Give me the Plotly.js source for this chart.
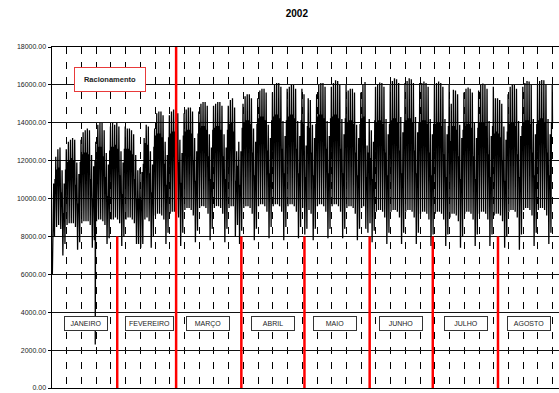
<!DOCTYPE html>
<html>
<head>
<meta charset="utf-8">
<script src="https://cdn.plot.ly/plotly-3.0.1.min.js"></script>
<style>html,body{margin:0;padding:0;background:#fff;}#chart{width:559px;height:393px;}</style>
</head>
<body>
<div id="chart"></div>
<script>
// Daily values, one row per week (Tue..Mon), starting 2002-01-01
const dailyPeak = [
[10800,12200,12600,12700,11500,10800,12600],
[13000,13100,13200,13100,11900,11300,13100],
[13500,13600,13700,13600,12300,11700,13000],
[13900,14000,14000,13600,12400,11800,13800],
[14000,13900,14000,13800,12500,11900,13800],
[13700,13700,13600,13400,12300,11500,11600],
[11400,13200,13900,13800,12500,11800,13700],
[14500,14600,14600,14400,13000,12300,14400],
[14600,14700,14700,14500,13100,12400,14500],
[14700,14800,14800,14600,13200,12500,14600],
[15000,15100,15100,14900,13400,12700,14900],
[15000,15100,15100,14900,13400,12700,14900],
[15200,15300,14800,12500,13000,12500,15000],
[15400,15500,15500,15300,13700,13000,15300],
[15700,15800,15800,15600,13900,13200,15600],
[16000,16100,16100,15900,14100,13300,15800],
[15900,16000,16000,15800,14100,13300,15800],
[15500,12800,15300,15200,13900,13200,15500],
[16000,16100,16100,15900,14100,13300,15900],
[16100,16250,16200,16000,14200,13400,16000],
[15700,15800,15800,15600,13900,13200,15600],
[16000,16150,12800,14200,13600,13000,15900],
[16000,16130,16100,15900,14200,13400,16000],
[16200,16350,16300,16100,14300,13500,16100],
[16200,16350,16300,16100,14300,13500,16100],
[16100,16180,16100,15900,14200,13400,16000],
[16100,16180,16100,15900,14200,13400,16000],
[15000,15740,15700,15500,13900,13200,15600],
[15800,15860,15800,15600,14000,13200,15700],
[16000,16070,16000,15800,14100,13300,15900],
[15300,15300,15200,15000,13800,13100,15500],
[15900,16000,16000,15800,14100,13300,15900],
[16100,16200,16180,16000,14200,13400,16000],
[16200,16260,16250,16050,14200,13400,16000]
];
const dailyMid = [
[9000,11000,11500,11600,10300,9200,11500],
[11900,12000,12100,12000,10700,9700,11900],
[12300,12400,12400,12300,11000,10000,12000],
[12600,12700,12700,12200,11100,10100,12500],
[12700,12700,12800,12600,11200,10200,12600],
[12600,12600,12500,12300,11000,10000,10000],
[9900,11800,12900,12800,11300,10300,12700],
[13300,13400,13400,13200,11800,10700,13200],
[13400,13500,13500,13300,11900,10800,13300],
[13500,13600,13600,13400,12000,10900,13400],
[13700,13800,13800,13600,12200,11000,13600],
[13700,13800,13800,13600,12200,11000,13600],
[13900,14000,13500,10900,11700,10700,13700],
[14000,14100,14100,13900,12400,11200,13900],
[14200,14300,14300,14100,12500,11300,14100],
[14300,14400,14400,14200,12600,11300,14100],
[14300,14400,14400,14200,12600,11300,14100],
[13900,11100,13800,13700,12400,11200,13900],
[14300,14400,14400,14200,12600,11300,14200],
[14300,14400,14400,14200,12600,11300,14200],
[14000,14100,14100,13900,12400,11200,13900],
[14200,14300,11100,12400,12100,11000,14100],
[14000,14100,14100,13900,12400,11200,13900],
[14100,14200,14200,14000,12500,11300,14000],
[14100,14200,14200,14000,12500,11300,14000],
[14000,14100,14100,13900,12400,11200,13900],
[13900,14000,14000,13800,12300,11100,13800],
[13000,13800,13800,13600,12200,11000,13600],
[13800,13900,13900,13700,12200,11000,13700],
[13900,14000,14000,13800,12300,11100,13800],
[13400,13500,13400,13200,12000,10900,13500],
[13900,14000,14000,13800,12300,11100,13800],
[14000,14100,14100,13900,12400,11200,13900],
[14100,14200,14200,14000,12400,11200,14000]
];
const dailyTrough = [
[6000,8000,8500,8600,8400,7000,7600],
[8600,8700,8700,8700,8500,7300,7700],
[8700,8800,8800,8800,8600,7400,7800],
[8800,8900,8900,8800,8600,7600,7900],
[8900,8900,9000,8900,8700,7500,8000],
[8900,9000,9000,8900,8700,7600,7600],
[7400,7600,8900,9000,8800,7400,8000],
[9100,9200,9200,9100,8900,7600,8200],
[9200,9300,9300,9200,9000,7500,8200],
[9400,9500,9500,9400,9100,7700,8300],
[9500,9600,9600,9500,9200,7800,8400],
[9500,9600,9600,9500,9200,7700,8400],
[9500,9600,9600,8000,8600,7600,8300],
[9500,9600,9600,9500,9200,7800,8400],
[9600,9700,9700,9600,9300,7900,8500],
[9600,9700,9700,9600,9300,7800,8500],
[9600,9700,9700,9600,9300,7900,8500],
[9500,8100,8400,9400,9200,7800,8400],
[9600,9700,9700,9600,9300,7900,8400],
[9600,9700,9700,9600,9300,7900,8400],
[9500,9600,9600,9500,9200,7800,8400],
[9500,9600,8400,8200,8700,7700,8300],
[9300,9400,9400,9300,9000,7600,8200],
[9300,9400,9400,9300,9000,7600,8200],
[9300,9400,9400,9300,9000,7600,8200],
[9200,9300,9300,9200,8900,7500,8100],
[9200,9300,9300,9200,8900,7500,8100],
[9000,9200,9200,9100,8800,7400,8000],
[9200,9300,9300,9200,8900,7500,8100],
[9200,9300,9300,9200,8900,7500,8100],
[9100,9200,9200,9100,8800,7400,8000],
[9300,9400,9400,9300,9000,7300,8100],
[9400,9500,9500,9400,9100,7500,8200],
[9400,9500,9500,9400,9100,7600,8200]
];
// Blackout of 21 Jan 2002
const eventTimes = ['2002-01-21 13:30'];
const eventValues = [2300];

const monthNames = ['JANEIRO','FEVEREIRO','MARÇO','ABRIL','MAIO','JUNHO','JULHO','AGOSTO'];
const monthLabelDates = ['2002-01-17','2002-02-16 12:00','2002-03-16 08:00','2002-04-15 22:00','2002-05-15 14:00','2002-06-15 17:00','2002-07-16 15:00','2002-08-15 12:00'];
const monthStarts = ['2002-02-01','2002-04-01','2002-05-01','2002-06-01','2002-07-01','2002-08-01'];
const rationingEnd = '2002-03-01';

const base = Date.UTC(2002,0,1);
function stamp(dayIdx, hour){
  return new Date(base + (dayIdx*24 + hour)*3600e3).toISOString().slice(0,16).replace('T',' ');
}
const xs = [], ys = [];
const P = dailyPeak.flat(), M = dailyMid.flat(), T = dailyTrough.flat();
const evDay = eventTimes.map(t => Math.round((Date.parse(t.replace(' ','T')+':00Z') - base)/864e5 - 0.5));
for (let d = 0; d < P.length; d++){
  xs.push(stamp(d,4)); ys.push(T[d]);
  xs.push(stamp(d,10)); ys.push(M[d]);
  const k = evDay.indexOf(d);
  if (k >= 0){
    xs.push(stamp(d,13)); ys.push(M[d]);
    xs.push(eventTimes[k]); ys.push(eventValues[k]);
  }
  xs.push(stamp(d,17)); ys.push(M[d]);
  xs.push(stamp(d,19)); ys.push(P[d]);
  xs.push(stamp(d,22)); ys.push(M[d]);
}

const shapes = monthStarts.map(d => ({type:'line', xref:'x', yref:'y', x0:d, x1:d, y0:0, y1:8000, line:{color:'#ff0000', width:2.5}, layer:'above'}));
shapes.push({type:'line', xref:'x', yref:'y', x0:rationingEnd, x1:rationingEnd, y0:0, y1:18000, line:{color:'#ff0000', width:2.5}, layer:'above'});

const annotations = monthNames.map((m,i) => ({
  x: monthLabelDates[i], y: 3400, xref:'x', yref:'y', text: m, showarrow:false,
  font:{family:'Liberation Sans, Arial, sans-serif', size:7, color:'#222'},
  bgcolor:'#fff', bordercolor:'#333', borderwidth:1, borderpad:1, width: (m.length > 8 ? 45 : 40), height:11
}));
annotations.push({
  x:'2002-01-28 16:00', y:16260, xref:'x', yref:'y', text:'<b>Racionamento</b>', showarrow:false,
  font:{family:'Liberation Sans, Arial, sans-serif', size:7.5, color:'#222'},
  bgcolor:'#fff', bordercolor:'#e83a3a', borderwidth:1, borderpad:2, width:66, height:19
});

const data = [{x: xs, y: ys, type:'scatter', mode:'lines', line:{color:'#000', width:1.3}, hoverinfo:'skip'}];
const layout = {
  width:559, height:393,
  margin:{l:52, r:0, t:47, b:5},
  paper_bgcolor:'#fff', plot_bgcolor:'#fff',
  showlegend:false,
  title:{text:'<b>2002</b>', x:270/559, xanchor:'center', xref:'paper', y:1-13/393, yref:'container', yanchor:'middle',
         font:{family:'Liberation Sans, Arial, sans-serif', size:10, color:'#000'}},
  xaxis:{type:'date', range:['2002-01-01','2002-08-30'], tick0:'2002-01-01', dtick:604800000,
         showticklabels:false, ticks:'', showgrid:true, gridcolor:'#000', gridwidth:1, griddash:'7px,8px',
         showline:true, linecolor:'#000', linewidth:1, mirror:true, zeroline:false},
  yaxis:{range:[0,18000], dtick:2000, tick0:0, tickformat:'.2f', showgrid:true, gridcolor:'#111', gridwidth:1,
         showline:true, linecolor:'#000', linewidth:1.5, ticks:'outside', ticklen:3, tickcolor:'#000',
         zeroline:false, tickfont:{family:'Liberation Sans, Arial, sans-serif', size:7, color:'#222'}},
  shapes: shapes,
  annotations: annotations
};
Plotly.newPlot('chart', data, layout, {staticPlot:true, displayModeBar:false});
</script>
</body>
</html>
